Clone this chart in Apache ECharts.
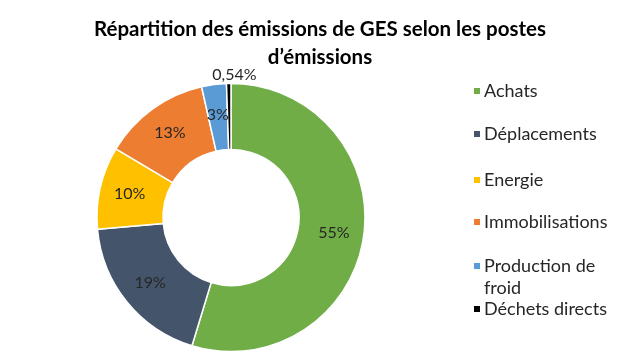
<!DOCTYPE html>
<html>
<head>
<meta charset="utf-8">
<script src="https://cdn.jsdelivr.net/npm/echarts@6/dist/echarts.min.js"></script>
<style>html,body{margin:0;padding:0;background:#fff;}#c{width:640px;height:361px;}</style>
</head>
<body>
<div id="c"></div>
<script>
const titleText = "Répartition des émissions de GES selon les postes\nd’émissions";
const categories = ["Achats", "Déplacements", "Energie", "Immobilisations", "Production de froid", "Déchets directs"];
const values = [55, 19, 10, 13, 3, 0.54];
const colors = ["#70AD47", "#44546A", "#FFC000", "#ED7D31", "#5B9BD5", "#000000"];

const FONT = "Lato";
const legendCenters = [91, 134, 180, 222, 266, 309];

const chart = echarts.init(document.getElementById('c'), null, {renderer: 'canvas'});

const legends = categories.map((name, i) => {
  const multi = name === "Production de froid";
  const lh = 22;
  const h = multi ? lh * 3 : lh;
  return {
    show: true,
    orient: 'vertical',
    left: 472,
    top: legendCenters[i] - h / 2,
    padding: 0,
    itemWidth: 8,
    itemHeight: 8,
    itemGap: 0,
    icon: 'rect',
    selectedMode: false,
    data: [name],
    formatter: multi ? function(n){ return "\nProduction de\nfroid"; } : undefined,
    textStyle: {fontFamily: FONT, fontSize: 18, color: '#262626', lineHeight: lh, padding: [0,0,0,-2]}
  };
});

const data = categories.map((name, i) => {
  const d = {name: name, value: values[i], itemStyle: {color: colors[i]}};
  if (i === 5) {
    d.label = {position: 'outside', distanceToLabelLine: 0};
    d.labelLine = {show: false, length: 6, length2: 0};
  }
  return d;
});

chart.setOption({
  animation: false,
  backgroundColor: '#ffffff',
  title: {
    text: titleText,
    left: 'center',
    top: 15,
    padding: [0, 0, 0, 12],
    textStyle: {fontFamily: FONT, fontSize: 20.5, fontWeight: 'bold', color: '#000', lineHeight: 28}
  },
  legend: legends,
  series: [{
    type: 'pie',
    center: [231, 217.5],
    radius: [68, 134],
    startAngle: 90,
    clockwise: true,
    avoidLabelOverlap: false,
    itemStyle: {borderColor: '#fff', borderWidth: 1.5},
    label: {
      show: true,
      position: 'inside',
      fontFamily: FONT,
      fontSize: 16,
      color: '#262626',
      formatter: function(p){ return String(p.value).replace('.', ',') + '%'; }
    },
    labelLayout: function(params){
      if (params.dataIndex === 5) return {dx: 28, dy: -3};
      return {};
    },
    labelLine: {show: false},
    emphasis: {disabled: true},
    data: data
  }]
});
</script>
</body>
</html>
